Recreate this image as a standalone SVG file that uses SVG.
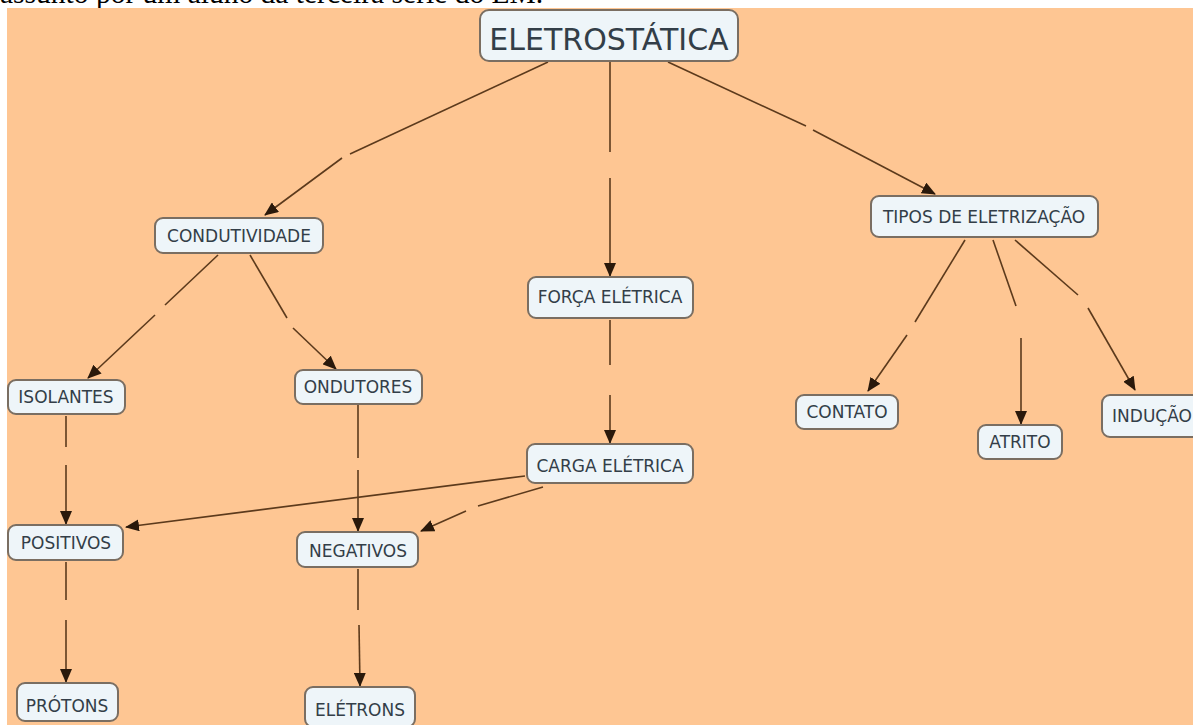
<svg xmlns="http://www.w3.org/2000/svg" width="1193" height="725" viewBox="0 0 1193 725">
  <style>
    .bg { fill: #fec693; }
    .node rect { fill: #eef5f9; stroke: #7a6e62; stroke-width: 2; }
    .node text { font-family: "DejaVu Sans", Verdana, sans-serif; font-size: 17px; fill: #333e48; text-anchor: middle; }
    .link { fill: none; stroke: #5c3a1c; stroke-width: 1.6; }
    .head { marker-end: url(#arrow); }
    .caption { font-family: "Liberation Serif", "Times New Roman", serif; font-size: 29.5px; fill: #000; }
  </style>
  <defs>
    <marker id="arrow" markerUnits="userSpaceOnUse" markerWidth="14" markerHeight="12" refX="13" refY="6" orient="auto">
      <path d="M0,0 L14,6 L0,12 Z" fill="#2a190b"/>
    </marker>
  </defs>

  <!-- page background and caption line above the map -->
  <rect x="0" y="0" width="1193" height="725" fill="#ffffff"/>
  <text class="caption" x="0" y="3">assunto por um aluno da terceira série do EM.</text>
  <rect class="bg" x="7" y="8" width="1186" height="717"/>

  <!-- connectors: each link is split where its (empty) label sits -->
  <g id="connectors">
    <path class="link" d="M548,62 L350,154"/>
    <path class="link head" d="M342,158 L265,215"/>

    <path class="link" d="M610,62 L610,152"/>
    <path class="link head" d="M610,178 L610,276"/>

    <path class="link" d="M668,62 L806,126"/>
    <path class="link head" d="M813,130 L935,194"/>

    <path class="link" d="M218,255 L165,305"/>
    <path class="link head" d="M155,315 L88,378"/>

    <path class="link" d="M250,255 L287,318"/>
    <path class="link head" d="M293,328 L336,369"/>

    <path class="link" d="M610,320 L610,365"/>
    <path class="link head" d="M610,395 L610,443"/>

    <path class="link" d="M965,240 L915,322"/>
    <path class="link head" d="M907,335 L868,391"/>

    <path class="link" d="M993,240 L1016,306"/>
    <path class="link head" d="M1021,338 L1021,424"/>

    <path class="link" d="M1015,240 L1078,295"/>
    <path class="link head" d="M1088,308 L1135,390"/>

    <path class="link" d="M66,416 L66,447"/>
    <path class="link head" d="M66,465 L66,524"/>

    <path class="link" d="M358,405 L358,458"/>
    <path class="link head" d="M358,470 L358,531"/>

    <path class="link head" d="M525,476 L126,527"/>

    <path class="link" d="M543,487 L478,506"/>
    <path class="link head" d="M466,511 L421,531"/>

    <path class="link" d="M66,562 L66,600"/>
    <path class="link head" d="M66,620 L66,682"/>

    <path class="link" d="M358,569 L358,610"/>
    <path class="link head" d="M359,625 L360,686"/>
  </g>

  <!-- concept nodes -->
  <g id="eletrostatica" class="node">
    <rect x="480" y="10" width="258" height="51" rx="9"/>
    <text x="609" y="50" style="font-size:30px">ELETROSTÁTICA</text>
  </g>
  <g id="condutividade" class="node">
    <rect x="155" y="218" width="168" height="35" rx="8"/>
    <text x="239" y="242">CONDUTIVIDADE</text>
  </g>
  <g id="tipos-eletrizacao" class="node">
    <rect x="871" y="196" width="227" height="41" rx="8"/>
    <text x="984" y="223">TIPOS DE ELETRIZAÇÃO</text>
  </g>
  <g id="forca-eletrica" class="node">
    <rect x="528" y="277" width="165" height="41" rx="8"/>
    <text x="610" y="303">FORÇA ELÉTRICA</text>
  </g>
  <g id="isolantes" class="node">
    <rect x="8" y="380" width="117" height="34" rx="8"/>
    <text x="66" y="403">ISOLANTES</text>
  </g>
  <g id="ondutores" class="node">
    <rect x="295" y="370" width="127" height="34" rx="8"/>
    <text x="358" y="393">ONDUTORES</text>
  </g>
  <g id="carga-eletrica" class="node">
    <rect x="527" y="444" width="166" height="39" rx="8"/>
    <text x="610" y="472">CARGA ELÉTRICA</text>
  </g>
  <g id="contato" class="node">
    <rect x="796" y="395" width="102" height="34" rx="8"/>
    <text x="847" y="418">CONTATO</text>
  </g>
  <g id="atrito" class="node">
    <rect x="978" y="425" width="84" height="34" rx="8"/>
    <text x="1020" y="448">ATRITO</text>
  </g>
  <g id="inducao" class="node">
    <rect x="1102" y="395" width="100" height="42" rx="8"/>
    <text x="1152" y="422">INDUÇÃO</text>
  </g>
  <g id="positivos" class="node">
    <rect x="8" y="525" width="115" height="35" rx="8"/>
    <text x="66" y="549">POSITIVOS</text>
  </g>
  <g id="negativos" class="node">
    <rect x="297" y="532" width="121" height="35" rx="8"/>
    <text x="358" y="557">NEGATIVOS</text>
  </g>
  <g id="protons" class="node">
    <rect x="17" y="683" width="101" height="38" rx="8"/>
    <text x="67" y="712">PRÓTONS</text>
  </g>
  <g id="eletrons" class="node">
    <rect x="305" y="687" width="110" height="40" rx="8"/>
    <text x="360" y="716">ELÉTRONS</text>
  </g>
</svg>
